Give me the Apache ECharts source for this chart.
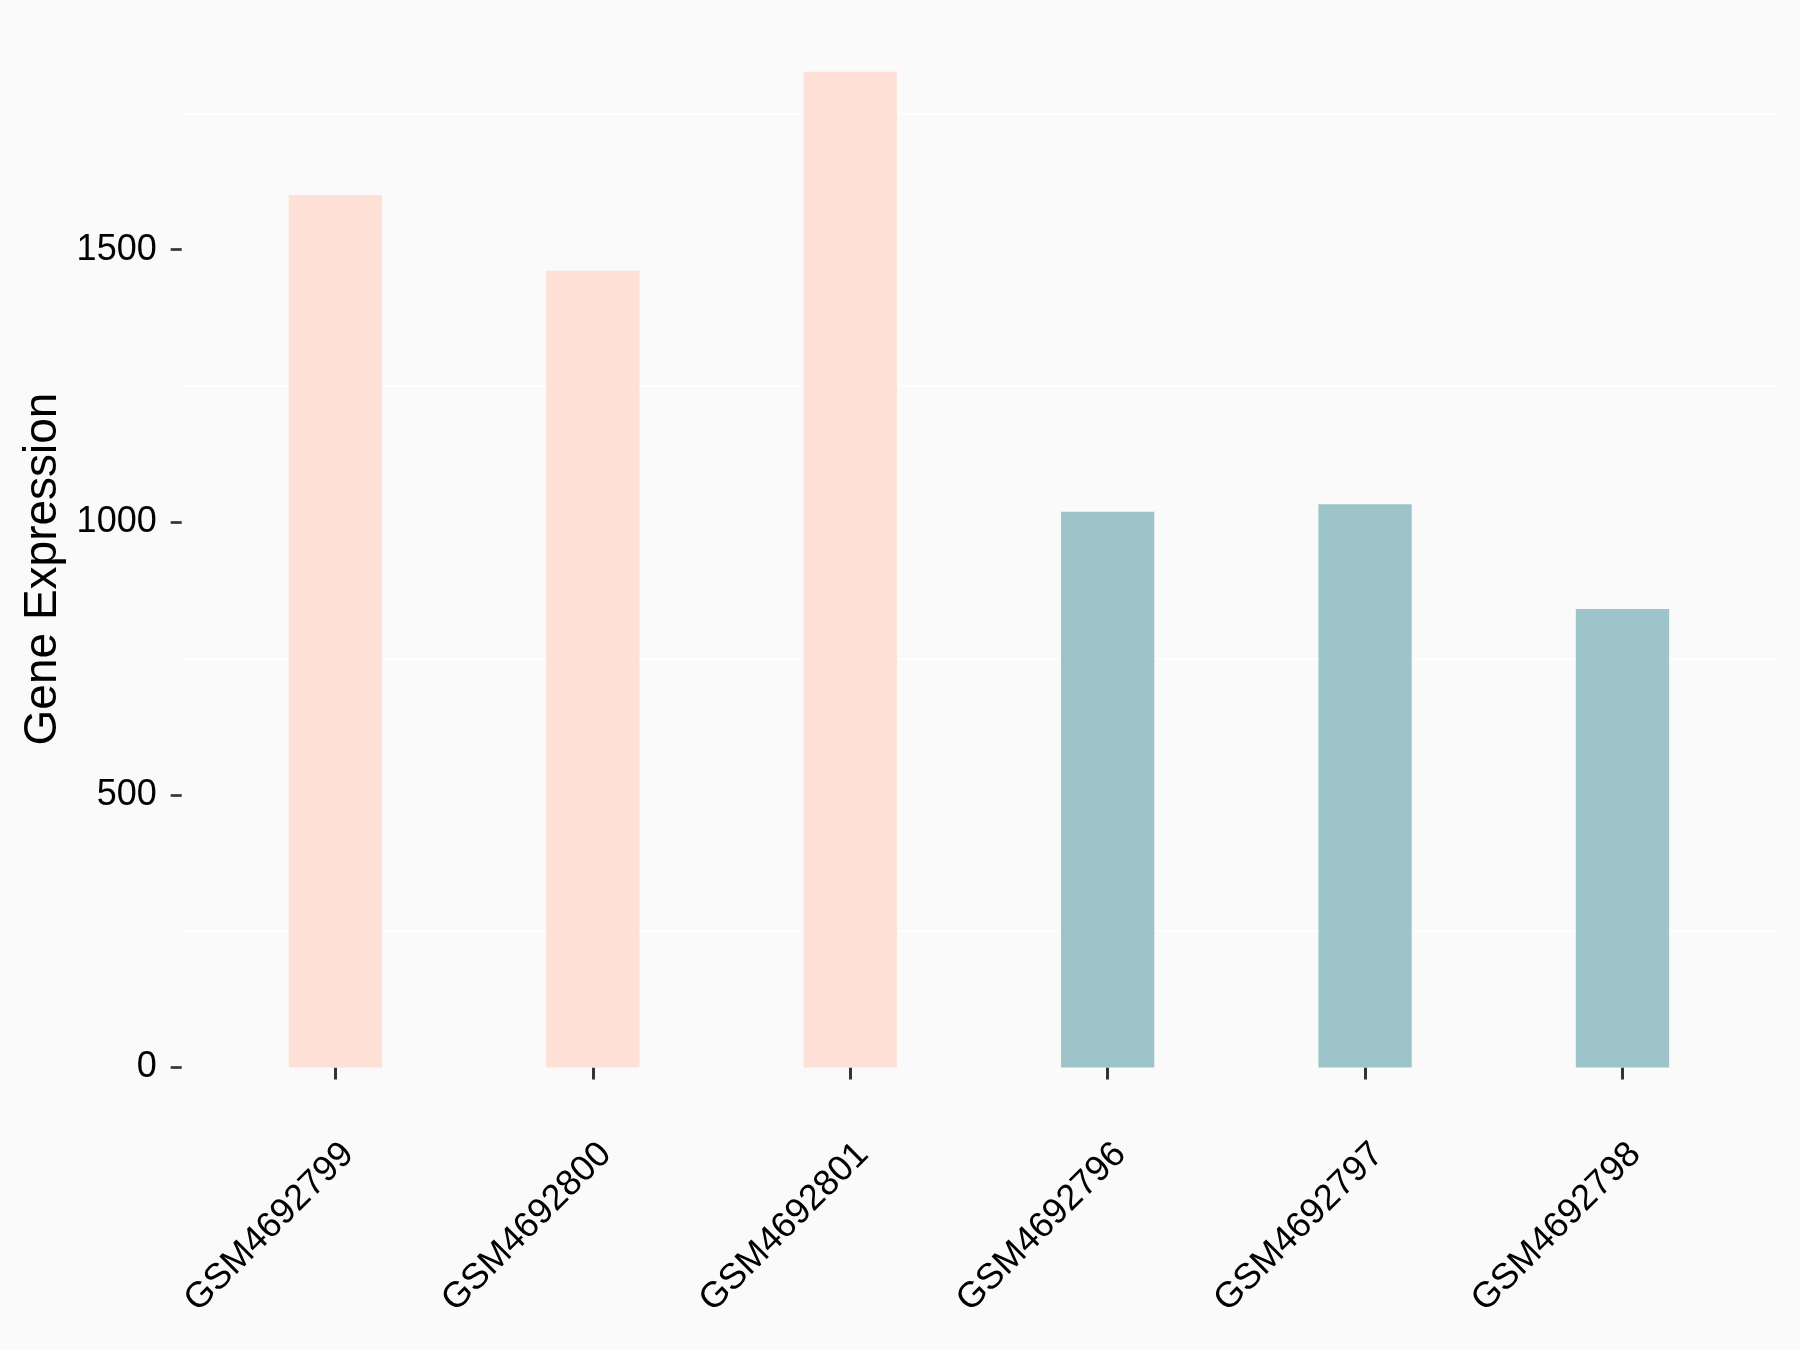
<!DOCTYPE html>
<html><head><meta charset="utf-8">
<script src="https://cdn.jsdelivr.net/npm/echarts@6/dist/echarts.min.js"></script>
<style>html,body{margin:0;padding:0;background:#FAFAFA}#c{width:1800px;height:1350px}</style>
</head><body><div id="c"></div>
<script>
// ---- data ----
const samples = ['GSM4692799', 'GSM4692800', 'GSM4692801', 'GSM4692796', 'GSM4692797', 'GSM4692798'];
const expression = [1600, 1461, 1826, 1019, 1033, 841];
const sampleGroup = [0, 0, 0, 1, 1, 1];
const yTickValues = [0, 500, 1000, 1500];

// ---- styling ----
const groupColors = ['#FEE0D6', '#9DC4C8'];
const FONT = '"Liberation Sans", Arial, sans-serif';
const Y_MAX = 1917;

const chart = echarts.init(document.getElementById('c'), null, { renderer: 'canvas' });
chart.setOption({
  backgroundColor: '#FAFAFA',
  animation: false,
  grid: [
    { left: 181.7, right: 23, top: 22.2, bottom: 282.5 },
    { left: 206.7, right: 48.8, top: 22.2, bottom: 282.5 }
  ],
  xAxis: [
    { gridIndex: 0, type: 'value', min: 0, max: 1, show: false },
    {
      gridIndex: 1, type: 'category', data: samples, boundaryGap: true, offset: 49.5,
      axisLine: { show: false },
      axisTick: { show: true, alignWithLabel: true, length: 12, lineStyle: { color: '#333333', width: 3 } },
      axisLabel: { rotate: 45, margin: 19, fontSize: 36, color: '#000000', fontFamily: FONT, interval: 0,
                   align: 'right', verticalAlign: 'top' },
      splitLine: { show: false }
    }
  ],
  yAxis: [
    {
      gridIndex: 0, type: 'value', min: 0, max: Y_MAX, interval: 500,
      axisLine: { show: false },
      axisTick: { show: true, length: 11, lineStyle: { color: '#333333', width: 2.7 }, customValues: yTickValues },
      axisLabel: { customValues: yTickValues, margin: 25, fontSize: 36, color: '#000000', fontFamily: FONT,
                   formatter: v => String(v) },
      splitLine: { show: false }
    },
    {
      // minor grid lines (250, 750, 1250, 1750)
      gridIndex: 0, type: 'value', position: 'right', min: 0, max: Y_MAX, interval: 250,
      axisLine: { show: false }, axisTick: { show: false }, axisLabel: { show: false },
      splitLine: { show: true, lineStyle: { color: ['#FAFAFA', '#FFFFFF'], width: 1.5 } }
    },
    { gridIndex: 1, type: 'value', min: 0, max: Y_MAX, show: false }
  ],
  series: [{
    type: 'bar', xAxisIndex: 1, yAxisIndex: 2, barWidth: 93.3,
    data: expression.map((v, i) => ({ value: v, itemStyle: { color: groupColors[sampleGroup[i]] } }))
  }],
  graphic: [{
    type: 'text', x: 43, y: 569, rotation: Math.PI / 2,
    style: { text: 'Gene Expression', font: '46px "Liberation Sans", Arial, sans-serif', fill: '#000000', align: 'center', verticalAlign: 'middle' }
  }]
});
</script></body></html>
